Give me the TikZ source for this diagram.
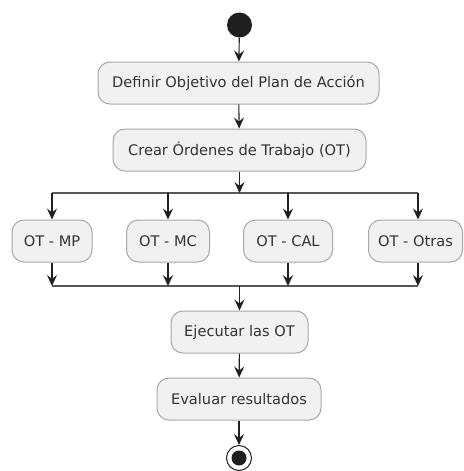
\documentclass[tikz,border=0pt]{standalone}
\usepackage{fontspec}
\setmainfont{DejaVu Sans}
\usetikzlibrary{arrows.meta}
\definecolor{actfill}{HTML}{F1F1F1}
\definecolor{actline}{HTML}{A8A8A8}
\definecolor{flow}{HTML}{202020}
\tikzset{
  act/.style={draw=actline, line width=1pt, fill=actfill, rounded corners=12pt,
    minimum height=42pt, inner sep=0pt, font=\fontsize{14.6}{16}\selectfont, text=black!80},
  flowline/.style={draw=flow, line width=1.1pt},
  flowarrow/.style={flowline, -{Stealth[length=11pt,width=10pt,inset=4pt]}},
  bar/.style={draw=flow!75, line width=2pt},
}
\begin{document}
\begin{tikzpicture}[x=1pt,y=-1pt]
  \useasboundingbox (0,0) rectangle (463,471);
  % start node
  \node[circle, fill=black!88, minimum size=25pt, inner sep=0pt] (start) at (239.5,25) {};
  % main activities
  \node[act, minimum width=281pt] (def) at (238.5,83) {Definir Objetivo del Plan de Acción};
  \node[act, minimum width=253pt] (crear) at (239.5,150) {Crear Órdenes de Trabajo (OT)};
  % fork bar
  \coordinate (forkL) at (52,193);
  \coordinate (forkR) at (418,193);
  \coordinate (forkC) at (239.5,193);
  \coordinate (f1) at (52,193);
  \coordinate (f2) at (168,193);
  \coordinate (f3) at (288,193);
  \coordinate (f4) at (418,193);
  % parallel activities
  \node[act, minimum width=80pt] (mp) at (52,241) {OT - MP};
  \node[act, minimum width=83pt] (mc) at (168,241) {OT - MC};
  \node[act, minimum width=89pt] (cal) at (288,241) {OT - CAL};
  \node[act, minimum width=94pt] (otras) at (415.5,241) {OT - Otras};
  % join bar
  \coordinate (joinL) at (52,286);
  \coordinate (joinR) at (418,286);
  \coordinate (joinC) at (239.5,286);
  \coordinate (j1) at (52,286);
  \coordinate (j2) at (168,286);
  \coordinate (j3) at (288,286);
  \coordinate (j4) at (418,286);
  % closing activities
  \node[act, minimum width=137pt] (ejec) at (239.5,332) {Ejecutar las OT};
  \node[act, minimum width=164pt] (eval) at (239,399) {Evaluar resultados};
  % end node
  \node[circle, draw=flow, line width=1pt, fill=white, minimum size=25pt, inner sep=0pt] (stop) at (239,458) {};
  \node[circle, fill=black!88, minimum size=15pt, inner sep=0pt] (stopin) at (stop.center) {};

  % bars
  \draw[bar] (forkL) -- (forkR);
  \draw[bar] (joinL) -- (joinR);

  % connectors
  \draw[flowarrow] (start) -- (def);
  \draw[flowarrow] (def) -- (crear);
  \draw[flowarrow] (crear) -- (forkC);
  \draw[flowarrow] (f1) -- (f1 |- mp.north);
  \draw[flowarrow] (f2) -- (f2 |- mc.north);
  \draw[flowarrow] (f3) -- (f3 |- cal.north);
  \draw[flowarrow] (f4) -- (f4 |- otras.north);
  \draw[flowarrow] (mp.south -| j1) -- (j1);
  \draw[flowarrow] (mc.south -| j2) -- (j2);
  \draw[flowarrow] (cal.south -| j3) -- (j3);
  \draw[flowarrow] (otras.south -| j4) -- (j4);
  \draw[flowarrow] (joinC) -- (ejec);
  \draw[flowarrow] (ejec) -- (eval);
  \draw[flowarrow] (eval) -- (stop);
\end{tikzpicture}
\end{document}
